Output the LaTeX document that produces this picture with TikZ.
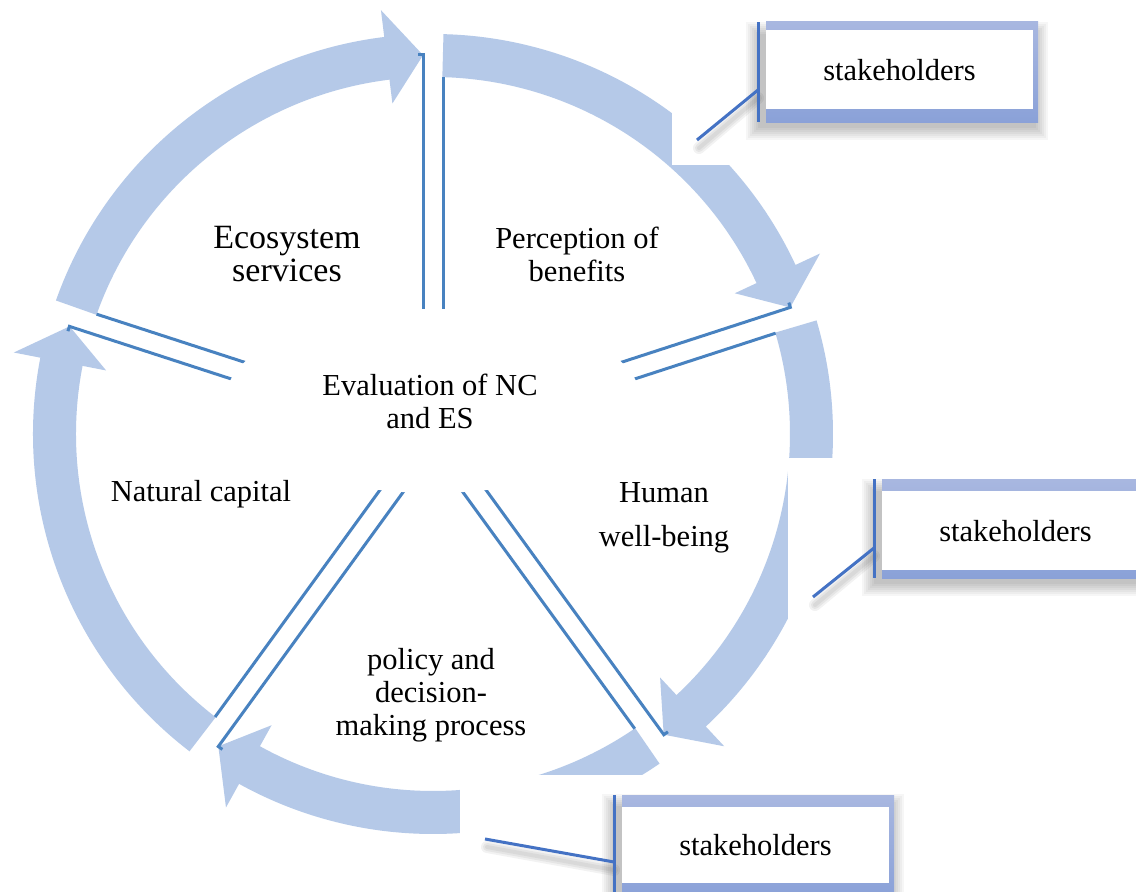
\documentclass[tikz,border=0pt]{standalone}
\usepackage{fontspec}
\setmainfont{Liberation Serif}
\usetikzlibrary{calc}
\definecolor{ringc}{RGB}{181,201,232}
\definecolor{divc}{RGB}{72,130,192}
\definecolor{accc}{RGB}{68,114,196}
\definecolor{bandtop}{RGB}{168,183,224}
\definecolor{bandbot}{RGB}{138,161,216}
\tikzset{
  divline/.style={draw=divc, line width=3pt},
  accline/.style={draw=accc, line width=3pt},
  lbl/.style={align=center, inner sep=0pt, font=\fontsize{30.5}{33}\selectfont},
  stakebox/.style={fill=white, minimum width=267pt, inner sep=0pt, font=\fontsize{30.5}{33}\selectfont},
  pshadow/.style={draw=black, line cap=round},
}
\newcommand\ringarrow[3]{%
  \fill[ringc] ($(C)+(#1:400pt)$) arc[start angle=#1, end angle=#2, radius=400pt]
    -- ($(C)+(#2:427pt)$) -- ($(C)+(#3:379pt)$) -- ($(C)+(#2:333pt)$)
    -- ($(C)+(#2:357pt)$) arc[start angle=#2, end angle=#1, radius=357pt] -- cycle;}
\newcommand\divider[1]{%
  \draw[divline] ($(C)+(#1:60pt)+({#1+90}:10pt)$) -- ($(C)+(#1:379pt)+({#1+90}:10pt)$) -- ++({#1+90}:5pt);
  \draw[divline] ($(C)+(#1:60pt)+({#1-90}:10pt)$) -- ($(C)+(#1:357pt)+({#1-90}:10pt)$);}
\newcommand\softshadow[4]{%
  \foreach \e in {-4,-2,0,2,4,6,8}{\fill[black,opacity=0.035] (#1-\e,#2-\e) rectangle (#3+\e,#4+\e);}}
\newcommand\lineshadow[2]{%
  \foreach \w in {4,8,12}{\draw[pshadow, opacity=0.05, line width=\w pt] #1 -- #2;}}
\begin{document}
\begin{tikzpicture}[x=1pt,y=1pt]
\clip (0,0) rectangle (1136,892);
\fill[white] (0,0) rectangle (1136,892);
\coordinate (C) at (433,458);
% cycle arrows
\ringarrow{160.5}{97}{91.5}
\ringarrow{88.5}{25}{19.5}
\ringarrow{16.5}{-47}{-52.5}
\ringarrow{-55.5}{-119}{-124.5}
\ringarrow{-127.5}{-191}{-196.5}
% dividers
\divider{90}
\divider{18}
\divider{-54}
\divider{-126}
\divider{162}
% centre ellipse
\fill[white] (433,491) ellipse [x radius=208pt, y radius=92pt];
% white areas of the callouts
\fill[white] (672,727) rectangle (1040,892);
\fill[white] (788,272) rectangle (1136,434);
\fill[white] (460,0) rectangle (900,117);
% labels
\node[lbl, font=\fontsize{34}{33}\selectfont] (eco) at (287,638) {Ecosystem\\services};
\node[lbl] (perc) at (577,638) {Perception of\\benefits};
\node[lbl] (eval) at (430,491) {Evaluation of NC\\and ES};
\node[lbl] (natcap) at (201,398) {Natural capital};
\node[lbl, font=\fontsize{30.5}{44}\selectfont] (human) at (664,374) {Human\\well-being};
\node[lbl] (policy) at (431,197) {policy and\\decision-\\making process};
% callout 1
\softshadow{754}{760}{1040}{862}
\lineshadow{(699,744)}{(758,794)}
\shade[top color=bandtop,bottom color=bandbot] (766,769) rectangle (1038,870);
\node[stakebox, minimum height=79pt] (s1) at (899.5,822) {stakeholders};
\coordinate (a1t) at (758,870);
\coordinate (a1b) at (758,770);
\coordinate (a1) at (758,802);
\coordinate (e1) at (697,752);
\draw[accline] (a1b) -- (a1t);
\draw[accline] (a1) -- (e1);
% callout 2
\softshadow{870}{304}{1156}{405}
\lineshadow{(815,287)}{(874,336)}
\shade[top color=bandtop,bottom color=bandbot] (882,313) rectangle (1154,412);
\node[stakebox, minimum height=79pt] (s2) at (1015.5,361) {stakeholders};
\coordinate (a2t) at (874,413);
\coordinate (a2b) at (874,314);
\coordinate (a2) at (874,344);
\coordinate (e2) at (813,295);
\draw[accline] (a2b) -- (a2t);
\draw[accline] (a2) -- (e2);
% callout 3
\softshadow{610}{-14}{896}{90}
\lineshadow{(487,45)}{(614,22)}
\shade[top color=bandtop,bottom color=bandbot] (622,-5) rectangle (894,96);
\node[stakebox, minimum height=76pt] (s3) at (755.5,47) {stakeholders};
\coordinate (a3t) at (614,97);
\coordinate (a3b) at (614,-5);
\coordinate (a3) at (614,30);
\coordinate (e3) at (485,53);
\draw[accline] (a3b) -- (a3t);
\draw[accline] (a3) -- (e3);
\end{tikzpicture}
\end{document}
